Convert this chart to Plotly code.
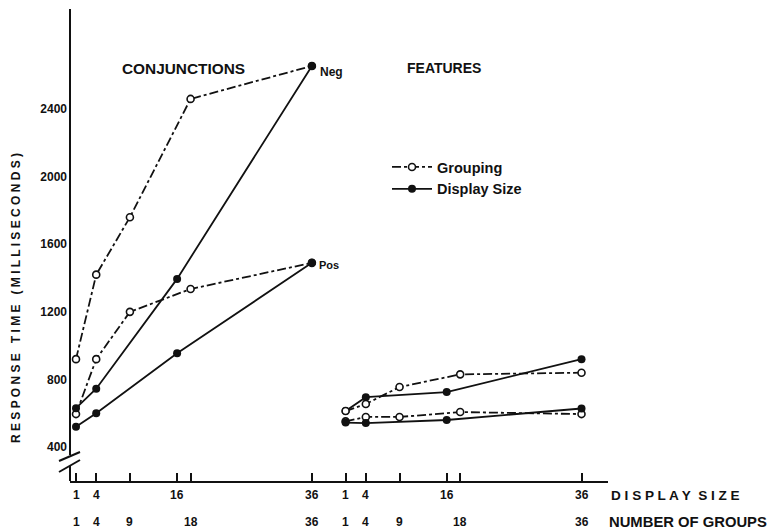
import plotly.graph_objects as go

# ---- data ----
display_sizes = [1, 4, 16, 36]
group_counts = [1, 4, 9, 18, 36]
feature_offset = 40  # features panel drawn to the right on the same axis

conj_neg_grouping = [920, 1420, 1760, 2460, 2655]
conj_neg_display = [630, 745, 1395, 2655]
conj_pos_grouping = [595, 920, 1200, 1335, 1490]
conj_pos_display = [520, 600, 955, 1490]

feat_neg_grouping = [613, 655, 755, 830, 840]
feat_neg_display = [613, 695, 725, 920]
feat_pos_grouping = [552, 578, 578, 607, 595]
feat_pos_display = [545, 542, 560, 628]

y_ticks = [400, 800, 1200, 1600, 2000, 2400]

FONT = "Liberation Sans"
BLACK = "#111111"

def fnt(size):
    return dict(family=FONT, size=size, color=BLACK, weight="bold")

open_marker = dict(symbol="circle", size=7, color="white", line=dict(width=1.6, color=BLACK))
filled_marker = dict(symbol="circle", size=8, color=BLACK, line=dict(width=0))

fig = go.Figure()

def add(xs, ys, grouping, show=False):
    fig.add_trace(go.Scatter(
        x=xs, y=ys, mode="lines+markers",
        line=dict(color=BLACK, width=1.8, dash="dashdot" if grouping else "solid"),
        marker=open_marker if grouping else filled_marker,
        name="Grouping" if grouping else "Display Size",
        legendgroup="g" if grouping else "d",
        showlegend=show, cliponaxis=False,
    ))

fx_g = [g + feature_offset for g in group_counts]
fx_d = [d + feature_offset for d in display_sizes]

# conjunctions
add(group_counts, conj_neg_grouping, True, show=True)
add(group_counts, conj_pos_grouping, True)
add(display_sizes, conj_neg_display, False, show=True)
add(display_sizes, conj_pos_display, False)
# features
add(fx_g, feat_pos_grouping, True)
add(fx_d, feat_pos_display, False)
add(fx_d, feat_neg_display, False)
add(fx_g, feat_neg_grouping, True)

tick_positions = sorted(set(display_sizes + group_counts)) + sorted(
    set(fx_d + fx_g))

L, R, T, B = 70, 162, 8, 48
W, H = 770, 529
pw, ph = W - L - R, H - T - B

def px(xp):
    return (xp - L) / pw

def py(yp):
    return (H - B - yp) / ph

annotations = []
for d in display_sizes:
    for xv in (d, d + feature_offset):
        annotations.append(dict(x=xv, xref="x", y=0, yref="paper", text=str(d),
                                showarrow=False, xanchor="center", yanchor="top",
                                yshift=-5, font=fnt(12)))
for g in group_counts:
    for xv in (g, g + feature_offset):
        annotations.append(dict(x=xv, xref="x", y=0, yref="paper", text=str(g),
                                showarrow=False, xanchor="center", yanchor="top",
                                yshift=-32, font=fnt(12)))

annotations += [
    dict(x=px(609), y=0, xref="paper", yref="paper", xanchor="left", yanchor="top",
         yshift=-5, text="D I S P L A Y  S I Z E", showarrow=False, font=fnt(13.6)),
    dict(x=px(607), y=0, xref="paper", yref="paper", xanchor="left", yanchor="top",
         yshift=-31, text="NUMBER OF GROUPS", showarrow=False, font=fnt(14.8)),
    dict(x=px(16), y=py(298), xref="paper", yref="paper", xanchor="center",
         yanchor="middle", textangle=-90,
         text="R E S P O N S E   T I M E   ( M I L L I S E C O N D S )",
         showarrow=False, font=fnt(12)),
    dict(x=px(183), y=py(68), xref="paper", yref="paper", xanchor="center",
         yanchor="middle", text="CONJUNCTIONS", showarrow=False, font=fnt(15.4)),
    dict(x=px(444), y=py(68), xref="paper", yref="paper", xanchor="center",
         yanchor="middle", text="FEATURES", showarrow=False, font=fnt(14)),
    dict(x=display_sizes[-1], y=conj_neg_display[-1], xref="x", yref="y",
         text="Neg", showarrow=False, xanchor="left", xshift=6, yshift=-6,
         font=fnt(12)),
    dict(x=display_sizes[-1], y=conj_pos_display[-1], xref="x", yref="y",
         text="Pos", showarrow=False, xanchor="left", xshift=5, yshift=-2,
         font=fnt(11)),
]

shapes = [
    # y axis with a break near the bottom
    dict(type="line", xref="paper", yref="paper", x0=0, x1=0, y0=py(455), y1=py(9),
         line=dict(color=BLACK, width=2)),
    dict(type="line", xref="paper", yref="paper", x0=0, x1=0, y0=0, y1=py(466),
         line=dict(color=BLACK, width=2)),
    dict(type="line", xref="paper", yref="paper", x0=px(59), x1=px(80),
         y0=py(461), y1=py(452), line=dict(color=BLACK, width=2)),
    dict(type="line", xref="paper", yref="paper", x0=px(59), x1=px(80),
         y0=py(472), y1=py(460), line=dict(color=BLACK, width=2)),
]

fig.update_layout(
    width=W, height=H,
    margin=dict(l=L, r=R, t=T, b=B),
    paper_bgcolor="white", plot_bgcolor="white",
    font=dict(family=FONT, color=BLACK),
    xaxis=dict(range=[0.11, 79.93], showgrid=False, zeroline=False,
               showline=True, linecolor=BLACK, linewidth=2,
               ticks="inside", ticklen=8, tickwidth=1.5, tickcolor=BLACK,
               tickvals=tick_positions, showticklabels=False),
    yaxis=dict(range=[199, 2998], showgrid=False, zeroline=False, showline=False,
               tickvals=y_ticks, ticks="", ticklabelstandoff=2,
               tickfont=fnt(12)),
    legend=dict(x=px(387), y=py(151), xanchor="left", yanchor="top",
                bgcolor="rgba(0,0,0,0)", itemwidth=40, tracegroupgap=0,
                font=fnt(14.5)),
    annotations=annotations,
    shapes=shapes,
    showlegend=True,
)

fig.write_html("out.html", config={"displayModeBar": False},
               post_script="document.body.style.margin='0px';"
                           "document.body.style.padding='0px';")
